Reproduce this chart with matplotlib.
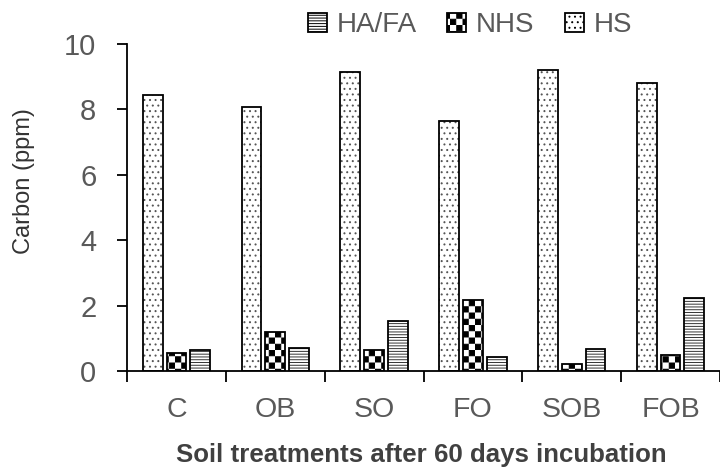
import numpy as np
import matplotlib
matplotlib.use("Agg")
import matplotlib.pyplot as plt
import matplotlib.hatch as mhatch
from matplotlib.path import Path
from matplotlib.patches import Patch

# ---- data ----
categories = ["C", "OB", "SO", "FO", "SOB", "FOB"]
hs = [8.44, 8.06, 9.15, 7.65, 9.20, 8.80]
nhs = [0.56, 1.19, 0.65, 2.17, 0.21, 0.49]
hafa = [0.64, 0.69, 1.52, 0.44, 0.66, 2.22]
yticks = [0, 2, 4, 6, 8, 10]


# ---- custom checkerboard hatch (replaces 'O') ----
class Checker(mhatch.HatchPatternBase):
    def __init__(self, hatch, density):
        self.n = 16 if "O" in hatch else 0
        self.num_vertices = (self.n * self.n // 2) * 5

    def set_vertices_and_codes(self, vertices, codes):
        n = self.n
        s = 1.0 / n
        m = s * 0.08
        k = 0
        for i in range(n):
            for j in range(n):
                if (i + j) % 2 == 0:
                    x0, y0 = i * s + m, j * s + m
                    x1, y1 = (i + 1) * s - m, (j + 1) * s - m
                    vertices[k:k + 5] = [(x0, y0), (x1, y0), (x1, y1), (x0, y1), (x0, y0)]
                    codes[k:k + 5] = [Path.MOVETO, Path.LINETO, Path.LINETO,
                                      Path.LINETO, Path.CLOSEPOLY]
                    k += 5


mhatch._hatch_types = [Checker if t is mhatch.LargeCircles else t
                       for t in mhatch._hatch_types]

plt.rcParams["font.family"] = ["Liberation Sans", "DejaVu Sans"]
plt.rcParams["hatch.linewidth"] = 0.7

fig = plt.figure(figsize=(7.2, 4.72), dpi=100)
ax = fig.add_axes([127 / 720, 1 - 371 / 472, 593 / 720, 327 / 472])

x = np.arange(len(categories))
w = 0.2
off = 0.24
series = [
    (hs, -off, "...", "#555555", "HS"),
    (nhs, 0.0, "O", "#000000", "NHS"),
    (hafa, off, "------", "#333333", "HA/FA"),
]
for vals, dx, hatch, hc, lab in series:
    ax.bar(x + dx, vals, width=w, color="white", edgecolor=hc, hatch=hatch,
           linewidth=0, zorder=2)
    ax.bar(x + dx, vals, width=w, fill=False, edgecolor="black",
           linewidth=1.3, zorder=3)

ax.set_xlim(-0.5, -0.5 + 593 / 100.5)
ax.set_ylim(0, 10)
ax.set_yticks(yticks)
ax.set_xticks(x)
ax.set_xticklabels(categories)
ax.set_xticks(np.arange(-0.5, len(categories) + 0.5, 1.0), minor=True)
ax.tick_params(axis="x", which="major", length=0, pad=19, labelsize=20.5,
               labelcolor="#595959")
ax.tick_params(axis="x", which="minor", length=8, width=1.3, direction="out",
               color="black")
ax.tick_params(axis="y", length=7, width=1.3, direction="out", labelsize=21,
               labelcolor="#595959", pad=15)

for s in ["top", "right"]:
    ax.spines[s].set_visible(False)
for s in ["left", "bottom"]:
    ax.spines[s].set_linewidth(1.3)
    ax.spines[s].set_color("black")

fig.text(24 / 720, 1 - 181 / 472, "Carbon (ppm)", rotation=90, ha="center",
         va="center", fontsize=17, color="#333333")
fig.text(421 / 720, 1 - 455 / 472, "Soil treatments after 60 days incubation",
         ha="center", va="center", fontsize=18.6, fontweight="bold",
         color="#404040")

handles = [
    Patch(facecolor="white", edgecolor="black", hatch="------", linewidth=1.3),
    Patch(facecolor="white", edgecolor="black", hatch="O", linewidth=1.3),
    Patch(facecolor="white", edgecolor="black", hatch="...", linewidth=1.3),
]
leg = fig.legend(handles, ["HA/FA", "NHS", "HS"], ncol=3, frameon=False,
                 loc="center", bbox_to_anchor=(470 / 720, 1 - 25 / 472),
                 fontsize=20, handlelength=0.68, handleheight=0.68,
                 handletextpad=0.35, columnspacing=1.1, borderaxespad=0)
for t in leg.get_texts():
    t.set_color("#595959")

fig.savefig("out.png", dpi=100)
